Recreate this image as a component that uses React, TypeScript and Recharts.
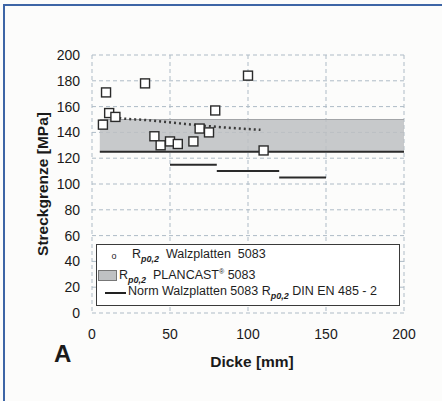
import React from 'react';
import {
  ComposedChart, Scatter, Line, XAxis, YAxis, CartesianGrid,
  ReferenceArea, ReferenceLine, Legend,
} from 'recharts';

// Measured points: R_p0,2 Walzplatten 5083
const thicknessMm = [7, 9, 11, 15, 34, 40, 44, 50, 55, 65, 69, 75, 79, 100, 110];
const yieldMPa = [146, 171, 155, 152, 178, 137, 130, 133, 131, 133, 143, 140, 157, 184, 126];

// Dotted trend line
const trendX = [9, 12, 15, 35, 56, 78, 108];
const trendY = [156, 153, 151.5, 149.5, 147, 144.5, 142];

// PLANCAST band
const bandStart = 5;
const bandEnd = 200;
const bandLow = 125;
const bandHigh = 150;

// Norm segments DIN EN 485-2
const normStart = [50, 80, 120];
const normEnd = [80, 120, 150];
const normValue = [115, 110, 105];

const xTicks = [0, 50, 100, 150, 200];
const yTicks = [0, 20, 40, 60, 80, 100, 120, 140, 160, 180, 200];

const scatterData = thicknessMm.map((x, i) => ({ x, y: yieldMPa[i] }));
const trendData = trendX.map((x, i) => ({ x, t: trendY[i] }));

const FONT = '"Liberation Sans", Arial, sans-serif';

const SquareShape = (props: any) => {
  const { cx, cy } = props;
  if (cx == null || cy == null) return null;
  const s = 9;
  return (
    <rect x={cx - s / 2} y={cy - s / 2} width={s} height={s}
      fill="#ffffff" stroke="#2a2a2a" strokeWidth={1.4} />
  );
};

const Rsub = () => (
  <span>R<sub style={{ fontSize: 9, fontStyle: 'italic', fontWeight: 'bold' }}>p0,2</sub></span>
);

const LegendBox = () => (
  <div style={{
    width: 304, height: 62, border: '1.5px solid #3a3a3a', background: '#ffffff',
    fontFamily: FONT, fontSize: 12.5, color: '#1e1e1e', boxSizing: 'border-box',
    position: 'relative', lineHeight: '14px',
  }}>
    <div style={{ position: 'absolute', left: 6, top: 2, display: 'flex', alignItems: 'center' }}>
      <span style={{ width: 22, display: 'inline-block', textAlign: 'center', fontSize: 9 }}>o</span>
      <span style={{ marginLeft: 7 }}><Rsub />&nbsp; Walzplatten&nbsp; 5083</span>
    </div>
    <div style={{ position: 'absolute', left: 1, top: 20, display: 'flex', alignItems: 'center' }}>
      <span style={{ width: 17, height: 9, background: '#bfc1c3', border: '1px solid #777', display: 'inline-block' }} />
      <span style={{ marginLeft: 2 }}><Rsub />&nbsp; PLANCAST<sup style={{ fontSize: 7 }}>®</sup> 5083</span>
    </div>
    <div style={{ position: 'absolute', left: 8, top: 39, display: 'flex', alignItems: 'center' }}>
      <span style={{ width: 21, height: 2, background: '#222', display: 'inline-block' }} />
      <span style={{ marginLeft: 2 }}>Norm Walzplatten 5083 <Rsub /> DIN EN 485 - 2</span>
    </div>
  </div>
);

export default function App() {
  return (
    <div style={{ position: 'absolute', left: 0, top: 0, width: 442, height: 401, background: '#fcfcfb', overflow: 'hidden' }}>
      <div style={{
        position: 'absolute', left: 3, top: 4, width: 445, height: 400,
        borderLeft: '2px solid #3d65a6', borderTop: '2px solid #3d65a6',
      }} />
      <ComposedChart width={442} height={401} data={scatterData}
        margin={{ top: 55, right: 38, bottom: 58, left: 0 }}
        style={{ position: 'absolute', left: 0, top: 0 }}>
        <CartesianGrid stroke="#aebbc6" strokeDasharray="4 3" strokeWidth={1} />
        <ReferenceArea x1={bandStart} x2={bandEnd} y1={bandLow} y2={bandHigh}
          fill="#bdbfc2" fillOpacity={0.85} stroke="none" ifOverflow="visible" />
        <ReferenceLine segment={[{ x: bandStart, y: bandHigh }, { x: bandEnd, y: bandHigh }]}
          stroke="#a2a4a7" strokeWidth={1} />
        <ReferenceLine segment={[{ x: bandStart, y: bandLow }, { x: bandEnd, y: bandLow }]}
          stroke="#2a2a2a" strokeWidth={2} />
        {normStart.map((s, i) => (
          <ReferenceLine key={i} segment={[{ x: s, y: normValue[i] }, { x: normEnd[i], y: normValue[i] }]}
            stroke="#2a2a2a" strokeWidth={2} />
        ))}
        <XAxis type="number" dataKey="x" domain={[0, 200]} ticks={xTicks}
          axisLine={false} tickLine={false} tickSize={0} tickMargin={16} height={30}
          tick={{ fill: '#1a1a1a', fontSize: 14, fontFamily: FONT }}
          label={{
            content: () => (
              <text x={252} y={367} textAnchor="middle" fill="#1a1a1a"
                style={{ fontFamily: FONT, fontSize: 15.5, fontWeight: 'bold' }}>Dicke [mm]</text>
            ),
          }} />
        <YAxis type="number" domain={[0, 200]} ticks={yTicks} width={92}
          axisLine={false} tickLine={false} tickSize={0} tickMargin={12}
          tick={{ fill: '#1a1a1a', fontSize: 14, fontFamily: FONT }}
          label={{
            content: () => (
              <text x={48} y={184} textAnchor="middle" fill="#1a1a1a" transform="rotate(-90 48 184)"
                style={{ fontFamily: FONT, fontSize: 15.5, fontWeight: 'bold' }}>Streckgrenze [MPa]</text>
            ),
          }} />
        <Line data={trendData} dataKey="t" type="monotone" stroke="#3a3a3a" strokeWidth={2.5}
          strokeDasharray="2 3" dot={false} isAnimationActive={false} legendType="none" />
        <Scatter dataKey="y" shape={<SquareShape />} isAnimationActive={false} />
        <Legend layout="horizontal" verticalAlign="middle" align="center"
          content={() => <LegendBox />}
          wrapperStyle={{ position: 'absolute', left: 96, top: 244, width: 306, height: 64 }} />
      </ComposedChart>
      <div style={{
        position: 'absolute', left: 54, top: 340, fontFamily: FONT, fontWeight: 'bold',
        fontSize: 24, color: '#1a1a1a',
      }}>A</div>
    </div>
  );
}
